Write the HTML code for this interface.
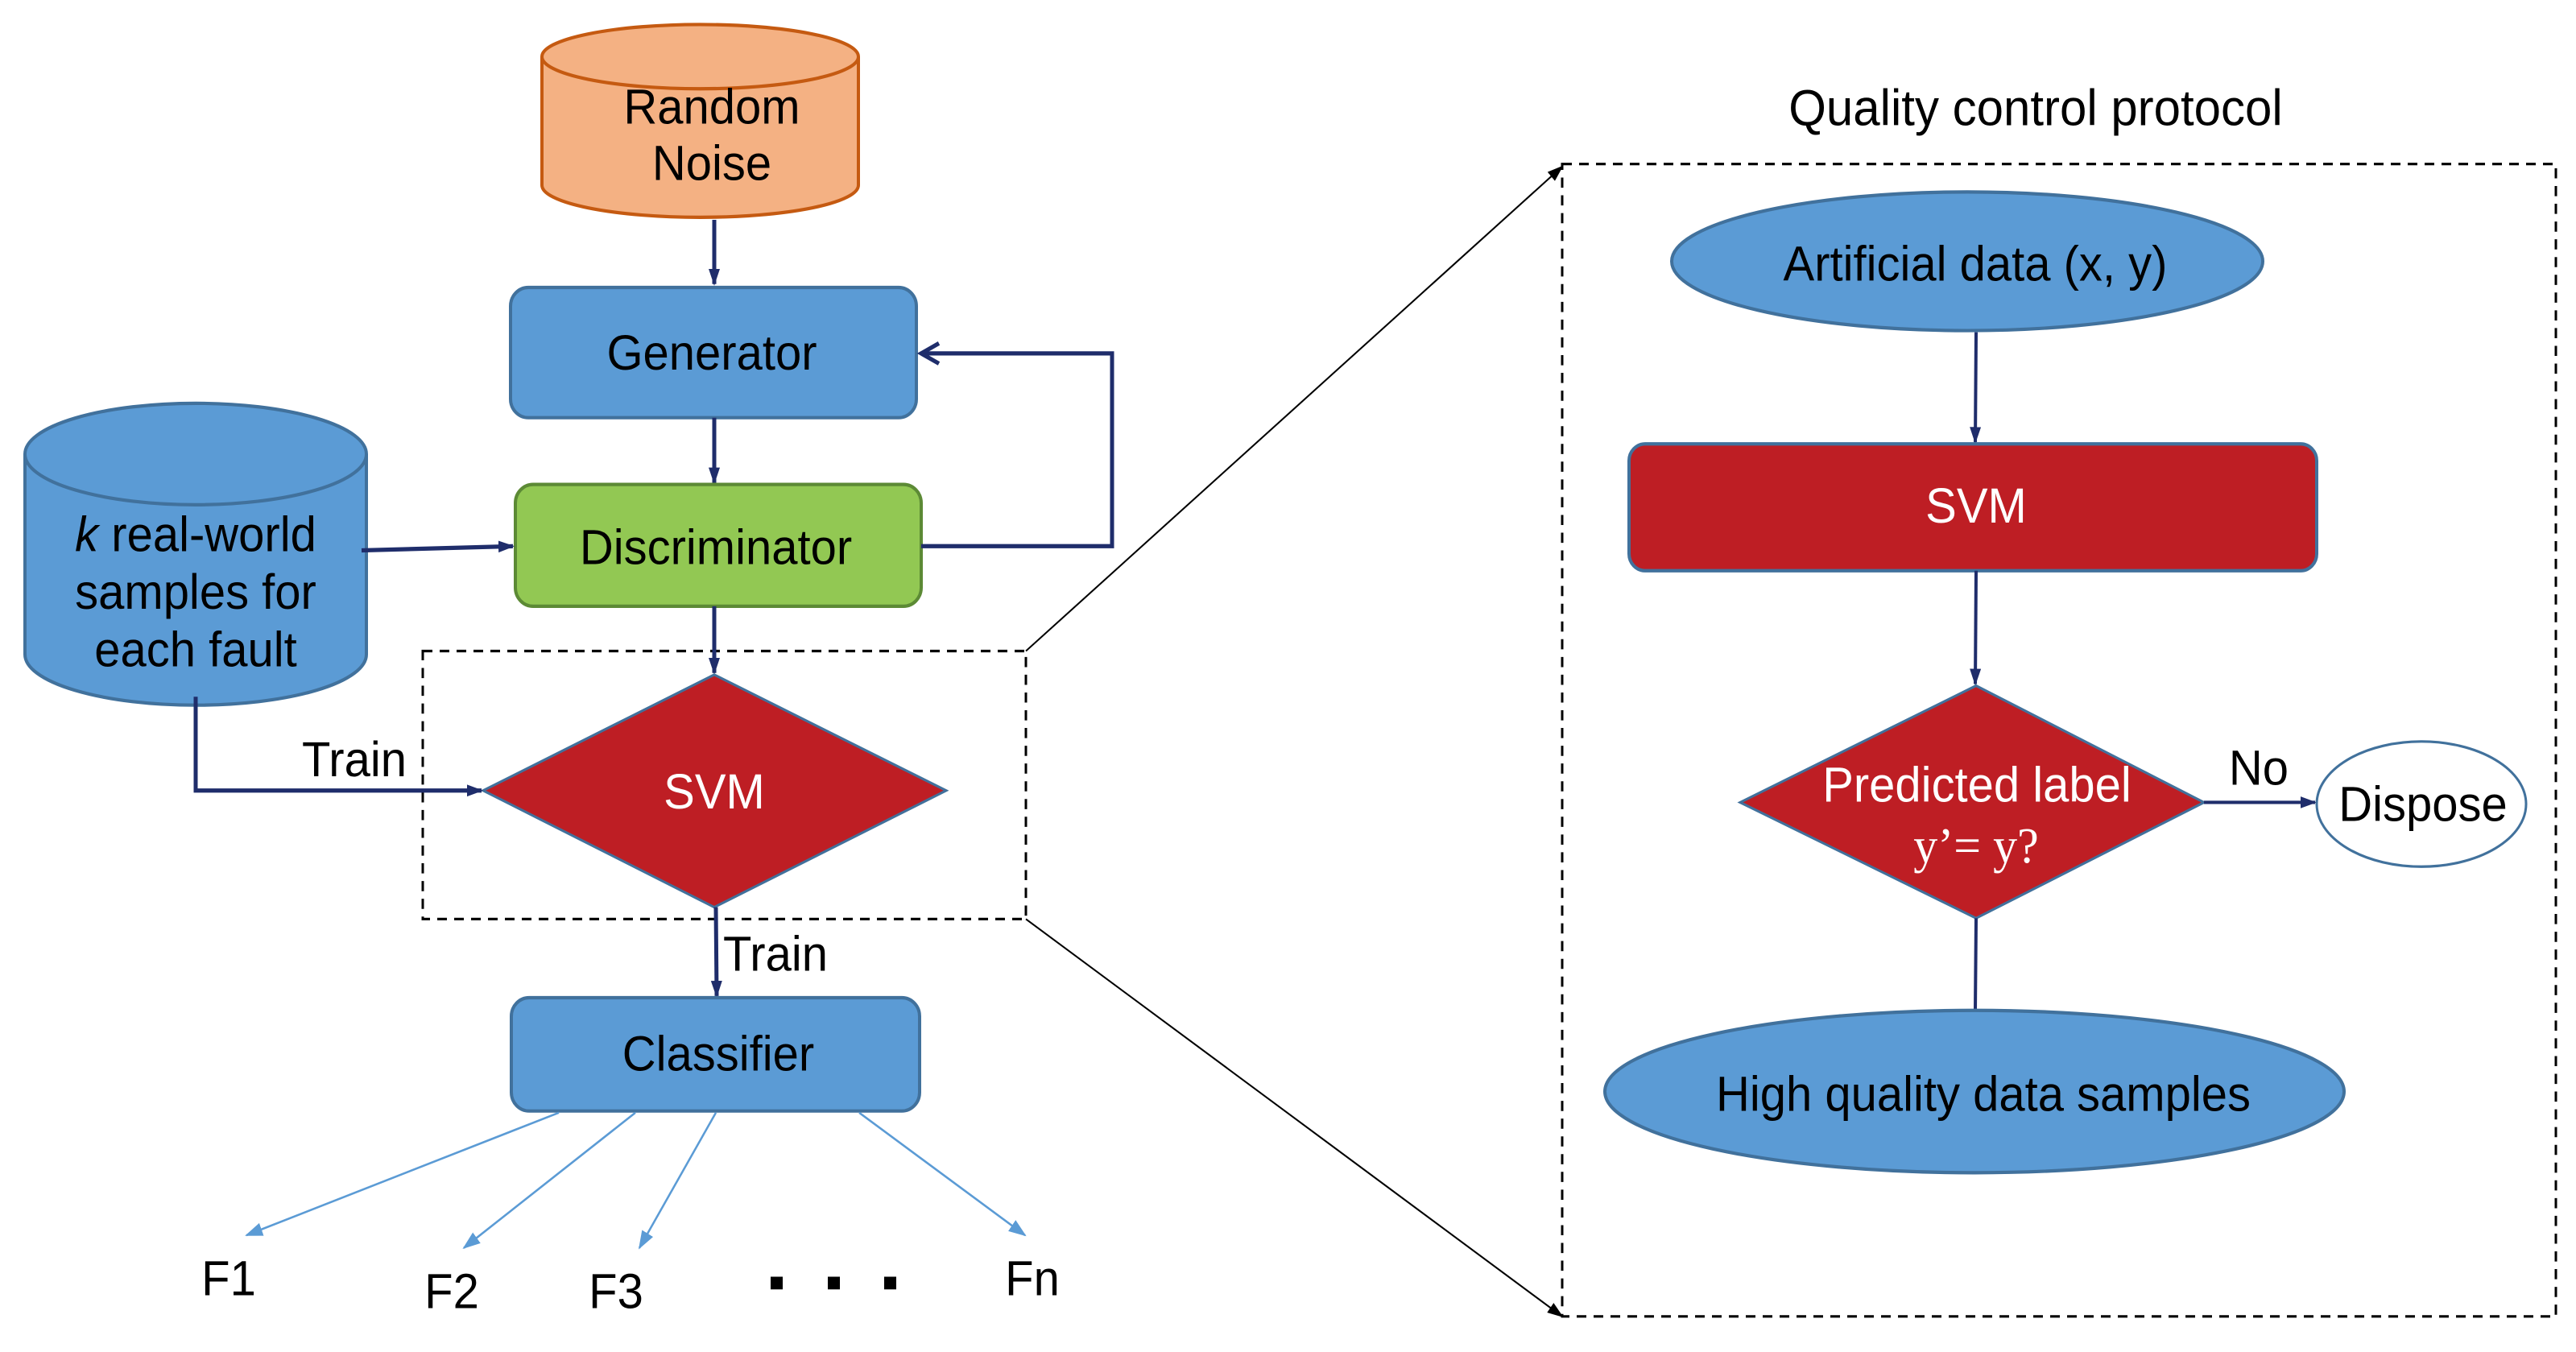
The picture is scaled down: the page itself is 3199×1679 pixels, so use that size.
<!DOCTYPE html>
<html><head><meta charset="utf-8"><style>html,body{margin:0;padding:0;background:#fff}svg{display:block}</style></head>
<body>
<svg width="3199" height="1679" viewBox="0 0 3199 1679" xmlns="http://www.w3.org/2000/svg" font-family="Liberation Sans, sans-serif">
<defs>
<marker id="ab" markerWidth="20" markerHeight="20" refX="18" refY="10" orient="auto" markerUnits="userSpaceOnUse"><path d="M0,3 L20,10 L0,17z" fill="#1f2d6b"/></marker>
<marker id="ak" markerWidth="20" markerHeight="20" refX="18" refY="10" orient="auto" markerUnits="userSpaceOnUse"><path d="M0,3 L20,10 L0,17z" fill="#000"/></marker>
<marker id="al" markerWidth="22" markerHeight="22" refX="20" refY="11" orient="auto" markerUnits="userSpaceOnUse"><path d="M0,3 L22,11 L0,19z" fill="#5b9bd5"/></marker>
</defs>
<g font-size="58" text-anchor="middle" transform="scale(1,1.05)">
<path d="M673,67 L673,219 A196.5,38 0 0 0 1066,219 L1066,67" fill="#f4b183" stroke="#c55a11" stroke-width="4"/>
<ellipse cx="869.5" cy="67" rx="196.5" ry="38" fill="#f4b183" stroke="#c55a11" stroke-width="4"/>
<text x="884" y="146">Random</text>
<text x="884" y="213">Noise</text>
<line x1="887" y1="260" x2="887" y2="336" stroke="#1f2d6b" stroke-width="5" marker-end="url(#ab)"/>
<rect x="634" y="340" width="504" height="154" rx="22" fill="#5b9bd5" stroke="#41719c" stroke-width="4"/>
<text x="884" y="437">Generator</text>
<line x1="887" y1="494" x2="887" y2="571" stroke="#1f2d6b" stroke-width="5" marker-end="url(#ab)"/>
<rect x="640" y="573" width="504" height="144" rx="22" fill="#92c853" stroke="#5c8a35" stroke-width="4"/>
<text x="889" y="667">Discriminator</text>
<polyline points="1144,646 1381,646 1381,418 1144,418" fill="none" stroke="#1f2d6b" stroke-width="5"/>
<polyline points="1166,406 1144,418 1166,430" fill="none" stroke="#1f2d6b" stroke-width="5"/>
<path d="M31,537 L31,774 A212,60 0 0 0 455,774 L455,537" fill="#5b9bd5" stroke="#41719c" stroke-width="4"/>
<ellipse cx="243" cy="537" rx="212" ry="60" fill="#5b9bd5" stroke="#41719c" stroke-width="4"/>
<text x="243" y="652"><tspan font-style="italic">k</tspan> real-world</text>
<text x="243" y="720">samples for</text>
<text x="243" y="788">each fault</text>
<line x1="449" y1="651" x2="637" y2="646" stroke="#1f2d6b" stroke-width="5" marker-end="url(#ab)"/>
<rect x="525" y="770" width="749" height="317" fill="none" stroke="#000" stroke-width="3" stroke-dasharray="12,9"/>
<line x1="887" y1="717" x2="887" y2="796" stroke="#1f2d6b" stroke-width="5" marker-end="url(#ab)"/>
<polygon points="887,798 1175,935 887,1073 600,935" fill="#be1e24" stroke="#41719c" stroke-width="3"/>
<text x="887" y="956" fill="#fff">SVM</text>
<polyline points="243,824 243,935 598,935" fill="none" stroke="#1f2d6b" stroke-width="5" marker-end="url(#ab)"/>
<text x="440" y="918">Train</text>
<line x1="889" y1="1073" x2="890" y2="1178" stroke="#1f2d6b" stroke-width="5" marker-end="url(#ab)"/>
<text x="963" y="1148">Train</text>
<rect x="635" y="1180" width="507" height="134" rx="22" fill="#5b9bd5" stroke="#41719c" stroke-width="4"/>
<text x="892" y="1266">Classifier</text>
<g stroke="#5b9bd5" stroke-width="2.5">
<line x1="694" y1="1316" x2="306" y2="1461" marker-end="url(#al)"/>
<line x1="789" y1="1316" x2="576" y2="1476" marker-end="url(#al)"/>
<line x1="889" y1="1316" x2="794" y2="1476" marker-end="url(#al)"/>
<line x1="1067" y1="1316" x2="1273" y2="1461" marker-end="url(#al)"/>
</g>
<text x="284" y="1532">F1</text>
<text x="561" y="1547">F2</text>
<text x="765" y="1547">F3</text>
<text x="1282" y="1532">Fn</text>
<rect x="957" y="1510" width="15" height="15" fill="#000"/>
<rect x="1028" y="1510" width="15" height="15" fill="#000"/>
<rect x="1098" y="1510" width="15" height="15" fill="#000"/>
<line x1="1274" y1="770" x2="1940" y2="197" stroke="#000" stroke-width="2" marker-end="url(#ak)"/>
<line x1="1274" y1="1087" x2="1940" y2="1557" stroke="#000" stroke-width="2" marker-end="url(#ak)"/>
<text x="2528" y="148" font-size="60">Quality control protocol</text>
<rect x="1940" y="194" width="1234" height="1363" fill="none" stroke="#000" stroke-width="3" stroke-dasharray="12,9"/>
<ellipse cx="2443" cy="309" rx="367" ry="82" fill="#5b9bd5" stroke="#41719c" stroke-width="4"/>
<text x="2453" y="332">Artificial data (x, y)</text>
<line x1="2454" y1="393" x2="2453" y2="523" stroke="#1f2d6b" stroke-width="4" marker-end="url(#ab)"/>
<rect x="2023" y="525" width="854" height="150" rx="20" fill="#be1e24" stroke="#41719c" stroke-width="4"/>
<text x="2454" y="618" fill="#fff">SVM</text>
<line x1="2454" y1="675" x2="2453" y2="809" stroke="#1f2d6b" stroke-width="4" marker-end="url(#ab)"/>
<polygon points="2454,811 2737,949 2454,1086 2161,949" fill="#be1e24" stroke="#41719c" stroke-width="3"/>
<text x="2455" y="948" fill="#fff">Predicted label</text>
<text x="2454" y="1020" fill="#fff" font-family="Liberation Serif, serif" font-size="60">y’= y?</text>
<line x1="2737" y1="949" x2="2875" y2="949" stroke="#1f2d6b" stroke-width="4" marker-end="url(#ab)"/>
<text x="2805" y="928">No</text>
<ellipse cx="3007" cy="951" rx="130" ry="74" fill="#fff" stroke="#41719c" stroke-width="3"/>
<text x="3009" y="971">Dispose</text>
<line x1="2454" y1="1086" x2="2453" y2="1195" stroke="#1f2d6b" stroke-width="4"/>
<ellipse cx="2452" cy="1291" rx="459" ry="96" fill="#5b9bd5" stroke="#41719c" stroke-width="4"/>
<text x="2463" y="1314">High quality data samples</text>
</g>
</svg>
</body></html>
